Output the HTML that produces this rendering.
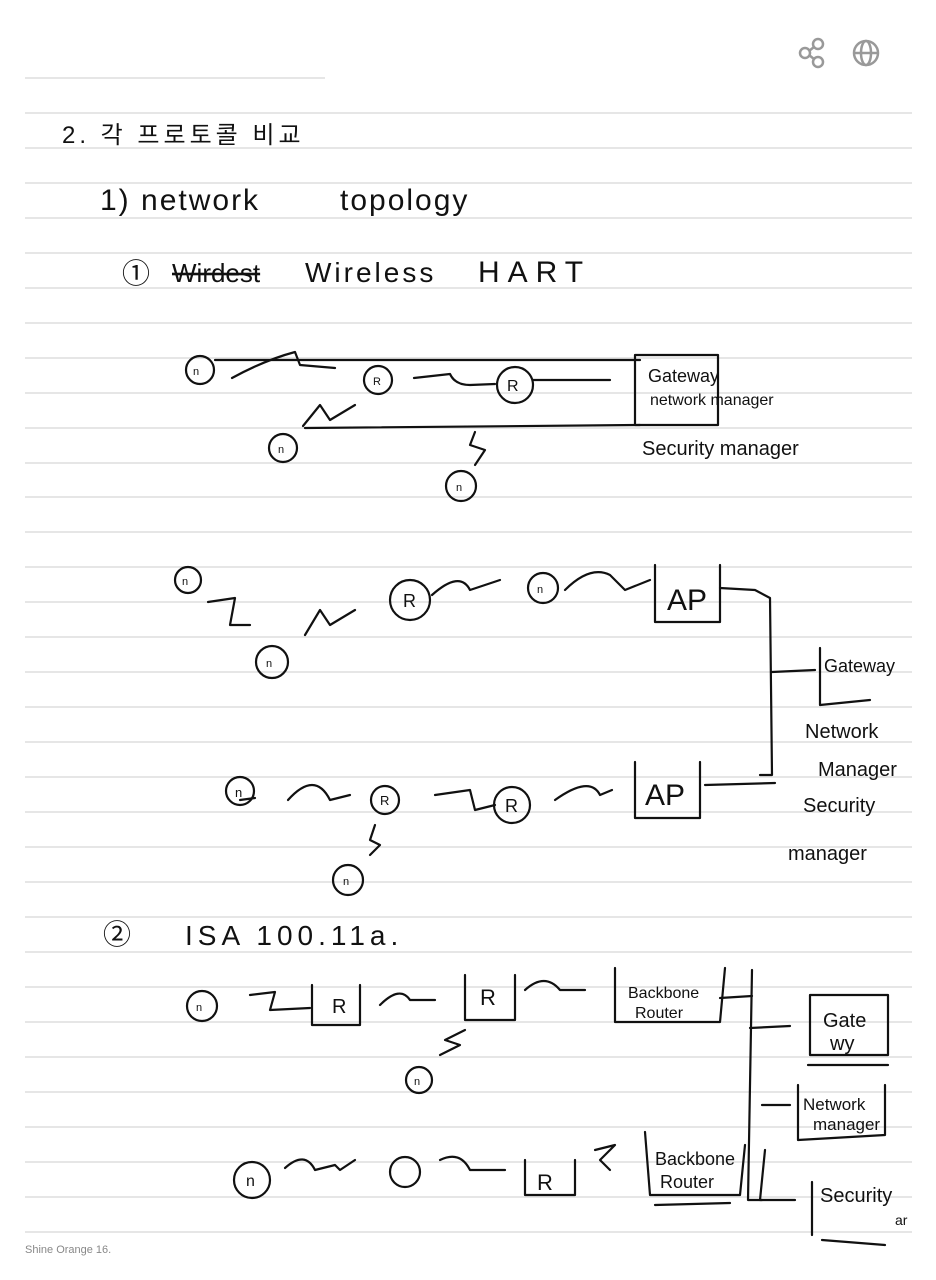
<!DOCTYPE html>
<html><head><meta charset="utf-8"><style>
body{margin:0;background:#fff;width:936px;height:1280px;overflow:hidden}
svg{display:block}
text{font-family:"Liberation Sans","Noto Sans CJK KR",sans-serif;fill:#111}
.s{fill:none;stroke:#111;stroke-width:2.2;stroke-linecap:round;stroke-linejoin:round}
</style></head><body>
<svg width="936" height="1280" viewBox="0 0 936 1280">
<g stroke="#d6d6d6" stroke-width="1.3">
<line x1="25" y1="78" x2="325" y2="78"/>
<script>/* none */</script>
</g>
<g id="lines" stroke="#d6d6d6" stroke-width="1.3">
<line x1="25" x2="912" y1="113" y2="113"/><line x1="25" x2="912" y1="148" y2="148"/><line x1="25" x2="912" y1="183" y2="183"/><line x1="25" x2="912" y1="218" y2="218"/><line x1="25" x2="912" y1="253" y2="253"/><line x1="25" x2="912" y1="288" y2="288"/><line x1="25" x2="912" y1="323" y2="323"/><line x1="25" x2="912" y1="358" y2="358"/><line x1="25" x2="912" y1="393" y2="393"/><line x1="25" x2="912" y1="428" y2="428"/><line x1="25" x2="912" y1="463" y2="463"/><line x1="25" x2="912" y1="497" y2="497"/><line x1="25" x2="912" y1="532" y2="532"/><line x1="25" x2="912" y1="567" y2="567"/><line x1="25" x2="912" y1="602" y2="602"/><line x1="25" x2="912" y1="637" y2="637"/><line x1="25" x2="912" y1="672" y2="672"/><line x1="25" x2="912" y1="707" y2="707"/><line x1="25" x2="912" y1="742" y2="742"/><line x1="25" x2="912" y1="777" y2="777"/><line x1="25" x2="912" y1="812" y2="812"/><line x1="25" x2="912" y1="847" y2="847"/><line x1="25" x2="912" y1="882" y2="882"/><line x1="25" x2="912" y1="917" y2="917"/><line x1="25" x2="912" y1="952" y2="952"/><line x1="25" x2="912" y1="987" y2="987"/><line x1="25" x2="912" y1="1022" y2="1022"/><line x1="25" x2="912" y1="1057" y2="1057"/><line x1="25" x2="912" y1="1092" y2="1092"/><line x1="25" x2="912" y1="1127" y2="1127"/><line x1="25" x2="912" y1="1162" y2="1162"/><line x1="25" x2="912" y1="1197" y2="1197"/><line x1="25" x2="912" y1="1232" y2="1232"/>
</g>
<!-- top icons -->
<g fill="none" stroke="#999" stroke-width="2.5">
<circle cx="818" cy="44" r="5"/><circle cx="818" cy="62" r="5"/><circle cx="805" cy="53" r="5"/>
<line x1="809" y1="51" x2="814" y2="47"/><line x1="809" y1="55" x2="814" y2="59"/>
<circle cx="866" cy="53" r="12"/><ellipse cx="866" cy="53" rx="5" ry="12"/><line x1="854" y1="53" x2="878" y2="53"/>
</g>
<!-- header text -->
<text x="62" y="143" font-size="24" letter-spacing="4">2. 각 프로토콜 비교</text>
<text x="100" y="210" font-size="30" letter-spacing="2">1) network</text>
<text x="340" y="210" font-size="30" letter-spacing="2">topology</text>
<text x="122" y="283" font-size="28">①</text>
<text x="172" y="282" font-size="26" text-decoration="line-through">Wirdest</text>
<text x="305" y="282" font-size="28" letter-spacing="3">Wireless</text>
<text x="478" y="282" font-size="30" letter-spacing="8">HART</text>

<!-- diagram 1 -->
<g class="s">
<circle cx="200" cy="370" r="14"/><circle cx="378" cy="380" r="14"/><circle cx="283" cy="448" r="14"/><circle cx="461" cy="486" r="15"/>
<circle cx="515" cy="385" r="18"/>
<path d="M215 360 L640 360"/><path d="M232 378 Q265 360 295 352 L300 365 L335 368"/>
<path d="M414 378 L450 374 Q455 385 470 385 L495 384"/>
<path d="M303 426 L320 405 L330 420 L355 405"/>
<path d="M305 428 L640 425"/>
<path d="M475 432 L470 445 L485 450 L475 465"/>
<path d="M533 380 L610 380"/>
<path d="M635 355 L635 425 L718 425 L718 355 Z"/>
</g>
<text x="193" y="375" font-size="11">n</text><text x="373" y="385" font-size="11">R</text><text x="278" y="453" font-size="11">n</text><text x="456" y="491" font-size="11">n</text>
<text x="507" y="391" font-size="16">R</text>
<text x="648" y="382" font-size="18">Gateway</text>
<text x="650" y="405" font-size="16">network  manager</text>
<text x="642" y="455" font-size="20">Security  manager</text>

<!-- diagram 2 -->
<g class="s">
<circle cx="188" cy="580" r="13"/><circle cx="272" cy="662" r="16"/><circle cx="410" cy="600" r="20"/><circle cx="543" cy="588" r="15"/>
<path d="M208 602 L235 598 L230 625 L250 625"/>
<path d="M305 635 L320 610 L330 625 L355 610"/>
<path d="M432 595 Q460 570 470 590 L500 580"/>
<path d="M565 590 Q590 565 610 575 L625 590 L650 580"/>
<path d="M655 565 L655 622 L720 622 L720 565"/>
<path d="M720 588 L755 590 L770 598 L772 775 L760 775"/>
<path d="M772 672 L815 670"/><path d="M820 648 L820 705 L870 700"/>
<path d="M255 798 L240 800"/>
<circle cx="240" cy="791" r="14"/><circle cx="385" cy="800" r="14"/><circle cx="512" cy="805" r="18"/><circle cx="348" cy="880" r="15"/>
<path d="M288 800 Q315 770 330 800 L350 795"/>
<path d="M435 795 L470 790 L475 810 L495 805"/>
<path d="M555 800 Q590 775 600 795 L612 790"/>
<path d="M375 825 L370 840 L380 845 L370 855"/>
<path d="M635 762 L635 818 L700 818 L700 762"/>
<path d="M705 785 L775 783"/>
</g>
<text x="182" y="585" font-size="11">n</text><text x="266" y="667" font-size="11">n</text><text x="403" y="607" font-size="18">R</text><text x="537" y="593" font-size="11">n</text>
<text x="667" y="610" font-size="30">AP</text>
<text x="824" y="672" font-size="18">Gateway</text>
<text x="805" y="738" font-size="20">Network</text>
<text x="818" y="776" font-size="20">Manager</text>
<text x="803" y="812" font-size="20">Security</text>
<text x="788" y="860" font-size="20">manager</text>
<text x="235" y="797" font-size="13">n</text><text x="380" y="805" font-size="13">R</text><text x="505" y="812" font-size="18">R</text><text x="343" y="885" font-size="11">n</text>
<text x="645" y="805" font-size="30">AP</text>

<!-- ISA -->
<text x="103" y="944" font-size="28">②</text>
<text x="185" y="945" font-size="28" letter-spacing="5">ISA 100.11a.</text>
<g class="s">
<circle cx="202" cy="1006" r="15"/><circle cx="419" cy="1080" r="13"/><circle cx="252" cy="1180" r="18"/><circle cx="405" cy="1172" r="15"/>
<path d="M250 995 L275 992 L270 1010 L310 1008"/>
<path d="M312 985 L312 1025 L360 1025 L360 985"/>
<path d="M380 1005 Q400 985 410 1000 L435 1000"/>
<path d="M465 975 L465 1020 L515 1020 L515 975"/>
<path d="M525 990 Q545 972 560 990 L585 990"/>
<path d="M465 1030 L445 1040 L460 1045 L440 1055"/>
<path d="M615 968 L615 1022 L720 1022 L725 968"/>
<path d="M720 998 L752 996"/><path d="M752 970 L748 1200 L762 1200"/>
<path d="M750 1028 L790 1026"/><path d="M762 1105 L790 1105"/><path d="M765 1150 L760 1200 L795 1200"/>
<path d="M810 995 L810 1055 L888 1055 L888 995 Z"/><path d="M808 1065 L888 1065"/>
<path d="M798 1085 L798 1140 L885 1135 L885 1085"/>
<path d="M812 1182 L812 1235 M822 1240 L885 1245"/>
<path d="M285 1168 Q305 1150 315 1170 L335 1165 L340 1170 L355 1160"/>
<path d="M440 1160 Q460 1150 470 1170 L505 1170"/>
<path d="M525 1160 L525 1195 L575 1195 L575 1160"/>
<path d="M595 1150 L615 1145 L600 1160 L610 1170"/>
<path d="M645 1132 L650 1195 L740 1195 L745 1145"/>
<path d="M655 1205 L730 1203"/>
</g>
<text x="196" y="1011" font-size="11">n</text><text x="332" y="1013" font-size="20">R</text><text x="480" y="1005" font-size="22">R</text>
<text x="414" y="1085" font-size="11">n</text><text x="246" y="1186" font-size="16">n</text>
<text x="537" y="1190" font-size="22">R</text>
<text x="628" y="998" font-size="16">Backbone</text><text x="635" y="1018" font-size="16">Router</text>
<text x="655" y="1165" font-size="18">Backbone</text><text x="660" y="1188" font-size="18">Router</text>
<text x="823" y="1027" font-size="20">Gate</text><text x="830" y="1050" font-size="20">wy</text>
<text x="803" y="1110" font-size="17">Network</text><text x="813" y="1130" font-size="17">manager</text>
<text x="820" y="1202" font-size="20">Security</text><text x="895" y="1225" font-size="14">ar</text>

<text x="25" y="1253" font-size="11" style="fill:#888">Shine Orange 16.</text>
</svg>
</body></html>
